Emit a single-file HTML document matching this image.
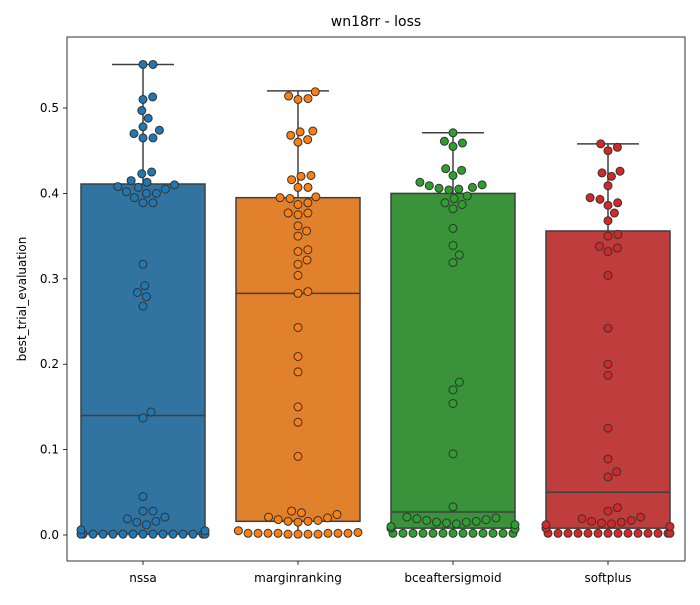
<!DOCTYPE html>
<html><head><meta charset="utf-8"><style>
body{margin:0;background:#fff}
svg text{font-family:"DejaVu Sans","Liberation Sans",sans-serif;fill:#000}
</style></head><body>
<svg id="c" width="700" height="600" xmlns="http://www.w3.org/2000/svg">
<rect x="0" y="0" width="700" height="600" fill="#fff"/>
<text x="376" y="26" font-size="14" text-anchor="middle">wn18rr - loss</text>
<text transform="translate(26,299) rotate(-90)" font-size="12" text-anchor="middle">best_trial_evaluation</text>
<g id="plot"></g>
<rect x="67" y="37" width="618" height="524" fill="none" stroke="#000" stroke-width="0.8"/>
</svg>
<script>
const categories=["nssa","marginranking","bceaftersigmoid","softplus"];
const q1=[0.001,0.016,0.008,0.008];
const medians=[0.140,0.283,0.027,0.050];
const q3=[0.411,0.395,0.400,0.356];
const whiskLo=[0,0,0,0];
const whiskHi=[0.551,0.520,0.471,0.458];
const yTicks=[0.0,0.1,0.2,0.3,0.4,0.5];
const ptsNssa=[0.551,0.551,0.513,0.510,0.497,0.488,0.478,0.474,0.470,0.465,0.465,0.425,0.423,0.415,0.413,0.410,0.408,0.407,0.405,0.402,0.400,0.400,0.395,0.389,0.389,0.317,0.292,0.284,0.279,0.268,0.144,0.137,0.045,0.028,0.028,0.021,0.019,0.016,0.015,0.012,0.006,0.005,0.001,0.001,0.001,0.001,0.001,0.001,0.001,0.001,0.001,0.001,0.001,0.001,0.001,0.001,0.001];
const ptsMargin=[0.519,0.514,0.511,0.510,0.473,0.472,0.468,0.463,0.460,0.421,0.420,0.416,0.407,0.407,0.396,0.395,0.394,0.389,0.387,0.377,0.377,0.375,0.362,0.356,0.350,0.334,0.332,0.322,0.317,0.304,0.285,0.283,0.243,0.209,0.191,0.150,0.132,0.092,0.028,0.026,0.024,0.021,0.020,0.018,0.017,0.016,0.016,0.015,0.005,0.003,0.002,0.002,0.002,0.001,0.001,0.001,0.001,0.002,0.002,0.002,0.002];
const ptsBce=[0.471,0.461,0.459,0.455,0.429,0.427,0.421,0.413,0.410,0.409,0.407,0.406,0.405,0.404,0.397,0.394,0.389,0.387,0.382,0.359,0.339,0.328,0.319,0.179,0.170,0.154,0.095,0.033,0.021,0.020,0.019,0.018,0.017,0.016,0.015,0.015,0.014,0.013,0.012,0.010,0.008,0.007,0.002,0.002,0.002,0.002,0.002,0.002,0.002,0.002,0.002,0.002,0.002,0.002,0.002];
const ptsSoft=[0.458,0.454,0.450,0.426,0.424,0.420,0.409,0.395,0.393,0.389,0.386,0.377,0.368,0.352,0.350,0.338,0.336,0.332,0.304,0.242,0.200,0.187,0.125,0.089,0.074,0.068,0.032,0.028,0.021,0.019,0.017,0.016,0.015,0.014,0.013,0.012,0.010,0.008,0.002,0.002,0.002,0.002,0.002,0.002,0.002,0.002,0.002,0.002,0.002,0.002,0.002,0.002];
const points=[ptsNssa,ptsMargin,ptsBce,ptsSoft];
const boxColors=["#3274a1","#e1812c","#3a923a","#c03d3e"];
const ptColors=["#1f77b4","#ff7f0e","#2ca02c","#d62728"];

const NS="http://www.w3.org/2000/svg";
const g=document.getElementById('plot');
const y=v=>535-854*v;
const xc=i=>143+155*i;
const BW=124;
function mk(t,a){const e=document.createElementNS(NS,t);for(const k in a)e.setAttribute(k,a[k]);g.appendChild(e);return e;}
yTicks.forEach(t=>{
  const l=mk('line',{x1:63,x2:67,y1:y(t),y2:y(t),stroke:'#000','stroke-width':0.8});
  
  
  const tx=mk('text',{x:59,y:y(t)+4,'font-size':12,'text-anchor':'end'});tx.textContent=t.toFixed(1);
  
  
});
categories.forEach((c,i)=>{
  const x=xc(i);
  const tk=mk('line',{x1:x,x2:x,y1:561,y2:565,stroke:'#000','stroke-width':0.8});
  
  
  const tx=mk('text',{x:x,y:582,'font-size':12,'text-anchor':'middle'});tx.textContent=c;
  
  
  const wl=mk('line',{x1:x,x2:x,y1:y(whiskHi[i]),y2:y(q3[i]),stroke:'#3f3f3f','stroke-width':1.5});
  
  
  const wc=mk('line',{x1:x-31,x2:x+31,y1:y(whiskHi[i]),y2:y(whiskHi[i]),stroke:'#3f3f3f','stroke-width':1.5});
  
  
  const wl2=mk('line',{x1:x,x2:x,y1:y(q1[i]),y2:y(whiskLo[i]),stroke:'#3f3f3f','stroke-width':1.5});
  
  
  const b=mk('rect',{x:x-BW/2,y:y(q3[i]),width:BW,height:y(q1[i])-y(q3[i]),fill:boxColors[i],stroke:'#3f3f3f','stroke-width':1.5});
  
  
  const m=mk('line',{x1:x-BW/2,x2:x+BW/2,y1:y(medians[i]),y2:y(medians[i]),stroke:'#3f3f3f','stroke-width':1.5});
  
  
  const d=10, placed=[];
  const vals=points[i].slice().sort((a,b)=>a-b);
  vals.forEach(v=>{
    const py=y(v);
    const near=placed.filter(p=>Math.abs(p.y-py)<d);
    const cands=[0];
    near.forEach(p=>{const dx=Math.sqrt(d*d-(p.y-py)**2);cands.push(p.x+dx,p.x-dx);});
    cands.sort((a,b)=>Math.abs(a)-Math.abs(b)||b-a);
    let ox=cands.find(cx=>near.every(p=>(p.x-cx)**2+(p.y-py)**2>=d*d-0.01));
    placed.push({x:ox,y:py});
  });
  placed.forEach(p=>{
    const ox=Math.max(-BW/2,Math.min(BW/2,p.x));
    const dot=mk('circle',{cx:x+ox,cy:p.y,r:4,fill:ptColors[i],stroke:'#333','stroke-width':1});
    
    
  });
});
</script>
</body></html>
